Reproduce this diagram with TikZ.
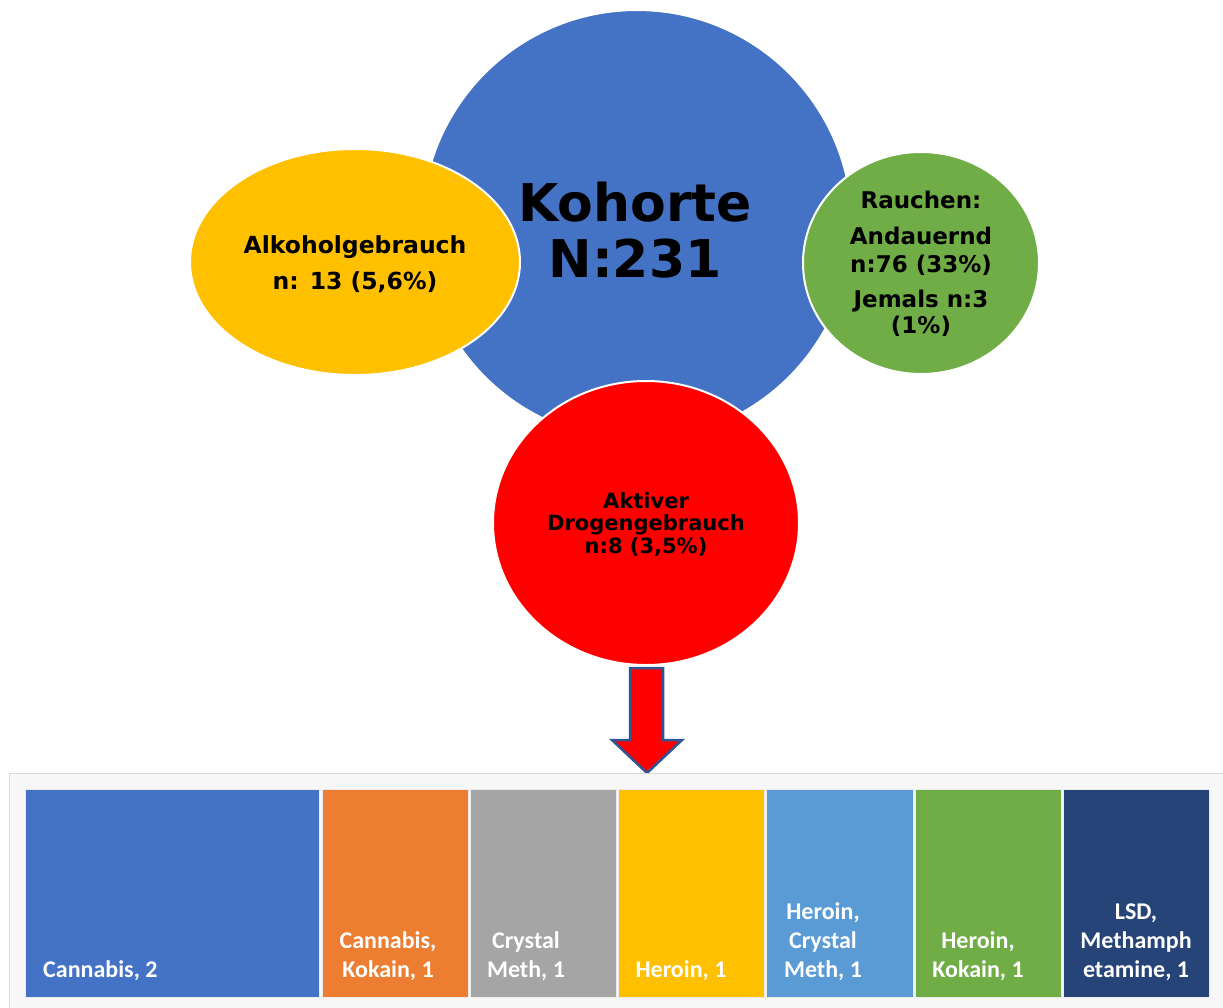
\documentclass[tikz,border=0pt]{standalone}
\usepackage{fontspec}
\setmainfont{DejaVu Sans}
\newfontfamily\calfont{Carlito}
\usetikzlibrary{shapes.geometric}
\definecolor{cblue}{HTML}{4472C4}
\definecolor{cyellow}{HTML}{FFC000}
\definecolor{cgreen}{HTML}{70AD47}
\definecolor{cred}{HTML}{FF0000}
\definecolor{corange}{HTML}{ED7D31}
\definecolor{cgray}{HTML}{A5A5A5}
\definecolor{clblue}{HTML}{5B9BD5}
\definecolor{cnavy}{HTML}{264478}
\definecolor{arrowblue}{HTML}{2F5597}
\definecolor{panelfill}{HTML}{F7F7F7}
\definecolor{panelline}{HTML}{D9D9D9}
\tikzset{
  bubble/.style={ellipse, draw=white, line width=2pt, inner sep=0pt},
  ctext/.style={align=center, anchor=base, inner sep=0pt, text=black},
  tile/.style={draw=white!85!gray, line width=0.8pt, inner sep=0pt, anchor=north west},
  tiletext/.style={align=center, anchor=base, inner sep=0pt, text=white,
    font={\calfont\bfseries\fontsize{24}{29}\selectfont}}
}
\begin{document}
\begin{tikzpicture}[x=1pt,y=-1pt]
\useasboundingbox (0,0) rectangle (1223,1007);
% bubbles
\node[bubble, fill=cblue, minimum width=430pt, minimum height=430pt] (koh) at (637,225) {};
\node[bubble, fill=cyellow, minimum width=330pt, minimum height=226pt] (alk) at (355,262) {};
\node[bubble, fill=cgreen, minimum width=236pt, minimum height=222pt] (rau) at (921,263) {};
\node[bubble, fill=cred, minimum width=306pt, minimum height=284pt] (dro) at (646,523) {};
% bubble texts (anchor = baseline of last line)
\node[ctext, font={\bfseries\fontsize{52}{56}\selectfont}] (kohtxt) at (635,277) {Kohorte\\N:231};
\node[ctext, font={\bfseries\fontsize{23.5}{36}\selectfont}] (alktxt) at (355,289) {Alkoholgebrauch\\n: 13 (5,6\%)};
\node[ctext, font={\bfseries\fontsize{23}{28}\selectfont}] (rautxt1) at (921,208) {Rauchen:};
\node[ctext, font={\bfseries\fontsize{23}{28}\selectfont\lineskiplimit=-50pt}] (rautxt2) at (921,272) {Andauernd\\n:76 (33\%)};
\node[ctext, font={\bfseries\fontsize{23}{26}\selectfont\lineskiplimit=-50pt}] (rautxt3) at (921,333) {Jemals n:3\\(1\%)};
\node[ctext, font={\bfseries\fontsize{21}{22.5}\selectfont\lineskiplimit=-50pt}] (drotxt) at (646,553) {Aktiver\\Drogengebrauch\\n:8 (3,5\%)};
% arrow
\draw[fill=cred, draw=arrowblue, line width=2.5pt, line join=miter]
  (630,668) -- (663,668) -- (663,740) -- (682,740) -- (647,773) -- (612,740) -- (630,740) -- cycle;
% panel
\filldraw[fill=panelfill, draw=panelline, line width=1pt] (9,773) rectangle (1240,1020);
% tiles
\node[tile, fill=cblue,   minimum width=294pt, minimum height=208pt] (t1) at (25,789) {};
\node[tile, fill=corange, minimum width=146pt, minimum height=208pt] (t2) at (322,789) {};
\node[tile, fill=cgray,   minimum width=146pt, minimum height=208pt] (t3) at (470,789) {};
\node[tile, fill=cyellow, minimum width=146pt, minimum height=208pt] (t4) at (618,789) {};
\node[tile, fill=clblue,  minimum width=147pt, minimum height=208pt] (t5) at (766,789) {};
\node[tile, fill=cgreen,  minimum width=146pt, minimum height=208pt] (t6) at (915,789) {};
\node[tile, fill=cnavy,   minimum width=146pt, minimum height=208pt] (t7) at (1063,789) {};
% tile texts (anchor = baseline of last line)
\node[tiletext, anchor=base west] (l1) at (43,977) {Cannabis, 2};
\node[tiletext] (l2) at (388,977) {Cannabis,\\Kokain, 1};
\node[tiletext] (l3) at (526,977) {Crystal\\Meth, 1};
\node[tiletext] (l4) at (681,977) {Heroin, 1};
\node[tiletext] (l5) at (823,977) {Heroin,\\Crystal\\Meth, 1};
\node[tiletext] (l6) at (978,977) {Heroin,\\Kokain, 1};
\node[tiletext] (l7) at (1136,977) {LSD,\\Methamph\\etamine, 1};
\end{tikzpicture}
\end{document}
